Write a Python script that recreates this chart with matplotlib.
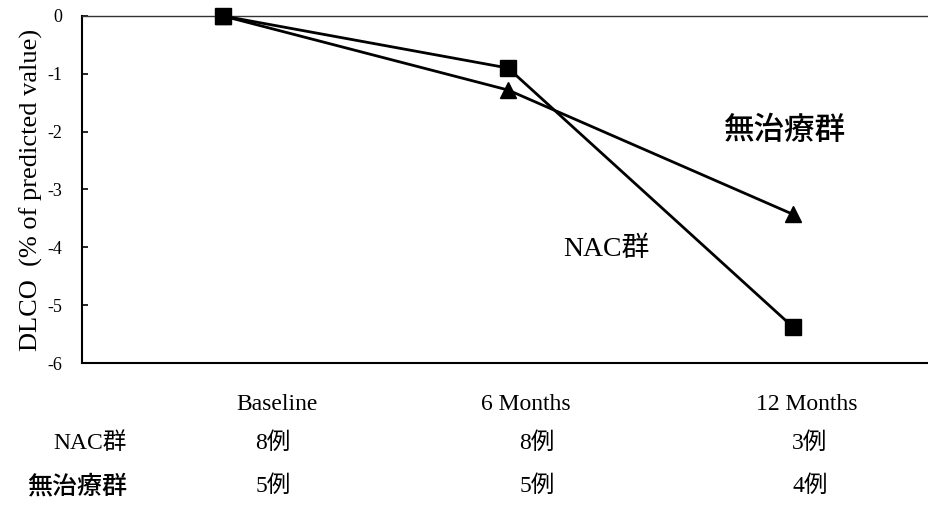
import matplotlib
import matplotlib.pyplot as plt

matplotlib.use('Agg')

# DLCO change from baseline (% of predicted value)
timepoints = ["Baseline", "6 Months", "12 Months"]
nac_dlco = [0.0, -0.9, -5.38]
untreated_dlco = [0.0, -1.28, -3.43]

# number of cases per group at each timepoint
nac_cases = [8, 8, 3]
untreated_cases = [5, 5, 4]

group_names = ["NAC群", "無治療群"]

SERIF_JP = ['Liberation Serif', 'Noto Sans CJK JP']

fig = plt.figure(figsize=(9.29, 5.05), dpi=100)
ax = fig.add_axes([82 / 929, 142 / 505, 1 - 82 / 929, 347 / 505])

x = list(range(len(timepoints)))
ax.plot(x, nac_dlco, color='black', lw=2.0, marker='s', ms=12,
        zorder=3, clip_on=False)
ax.plot(x, untreated_dlco, color='black', lw=2.0, marker='^', ms=12,
        zorder=3, clip_on=False)

ax.set_xlim(-0.495, 2.477)
ax.set_ylim(-6, 0)
ax.set_yticks(range(-6, 1))
ax.set_yticklabels([str(v) for v in range(-6, 1)], family='Liberation Serif', fontsize=13)
ax.set_xticks([])
ax.tick_params(axis='y', direction='in', length=4, width=1.2, pad=14)

ax.spines['right'].set_visible(False)
ax.spines['left'].set_linewidth(1.5)
ax.spines['bottom'].set_linewidth(1.5)
ax.spines['top'].set_linewidth(1.0)
ax.spines['top'].set_color('#333333')

ax.set_ylabel("DLCO  (% of predicted value)", family='Liberation Serif',
              fontsize=19, labelpad=3)

# group labels next to the lines
ax.text(1.344, -4.03, group_names[0], family=SERIF_JP, fontsize=20,
        ha='center', va='center')
ax.text(1.97, -1.99, group_names[1], family=SERIF_JP, fontsize=22,
        ha='center', va='center', fontweight='medium')

# table of timepoints and case counts under the axes
col_x = [277, 526, 807]
count_x = [273, 537, 810]
for cx, name in zip(col_x, timepoints):
    fig.text(cx / 929, 1 - 405 / 505, name, family='Liberation Serif',
             fontsize=17, ha='center', va='center')

fig.text(90 / 929, 1 - 443 / 505, group_names[0], family=SERIF_JP,
         fontsize=17, ha='center', va='center')
fig.text(77 / 929, 1 - 487 / 505, group_names[1], family=SERIF_JP,
         fontsize=18, ha='center', va='center', fontweight='medium')

for cx, n_nac, n_un in zip(count_x, nac_cases, untreated_cases):
    fig.text(cx / 929, 1 - 443 / 505, f"{n_nac}例", family=SERIF_JP,
             fontsize=17, ha='center', va='center')
    fig.text(cx / 929, 1 - 486 / 505, f"{n_un}例", family=SERIF_JP,
             fontsize=17, ha='center', va='center')

fig.savefig("out.png", dpi=100)
